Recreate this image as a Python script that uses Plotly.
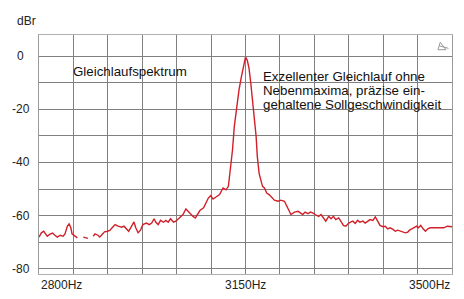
import plotly.graph_objects as go

freq_hz = [2800, 2804, 2808, 2814, 2818, 2823, 2827, 2831, 2836, 2841, 2844, 2848, 2851, 2854, 2856,
           2861, 2865, 2868, 2875, 2879, 2883, 2886, 2892, 2895, 2900, 2903, 2907, 2911, 2916, 2920,
           2924, 2929, 2934, 2940, 2944, 2948, 2952, 2957, 2961, 2964, 2968, 2972, 2976, 2982, 2987,
           2991, 2995, 2998, 3002, 3006, 3011, 3015, 3019, 3023, 3028, 3032, 3038, 3044, 3049, 3055,
           3061, 3065, 3069, 3073, 3079, 3083, 3087, 3091, 3095, 3100, 3106, 3112, 3117, 3121, 3123,
           3126, 3128, 3131, 3135, 3139, 3143, 3146, 3148, 3150, 3153, 3156, 3159, 3162, 3165, 3168,
           3170, 3173, 3177, 3179, 3182, 3186, 3190, 3195, 3199, 3205, 3210, 3216, 3220, 3224, 3227,
           3233, 3239, 3243, 3247, 3251, 3256, 3260, 3264, 3268, 3274, 3278, 3282, 3286, 3291, 3295,
           3299, 3303, 3308, 3312, 3316, 3320, 3325, 3328, 3332, 3336, 3340, 3344, 3349, 3353, 3357,
           3361, 3366, 3370, 3374, 3378, 3383, 3387, 3391, 3395, 3400, 3404, 3408, 3412, 3417, 3421,
           3425, 3428, 3432, 3436, 3440, 3443, 3447, 3451, 3455, 3459, 3463, 3469, 3475, 3480, 3486,
           3492, 3497, 3500]
level_dbr = [-68.1, -66.5, -65.9, -67.8, -67.1, -66.6, -67.4, -68.1, -67.4, -67.8, -66.9, -64.0, -63.1, -64.6, -66.9,
             -67.8, -68.4, None, -68.1, -68.4, -68.6, None, -67.8, -66.9, -67.4, -68.1, -67.1, -66.1, -65.9, -65.6,
             -64.6, -63.4, -64.0, -64.4, -64.0, -65.0, -65.9, -64.0, -62.4, -64.6, -66.5, -65.5, -63.4, -62.8, -63.4,
             -62.8, -61.2, -62.5, -63.4, -61.8, -62.5, -61.8, -62.5, -61.2, -62.5, -62.1, -60.9, -59.6, -57.5, -59.0,
             -60.3, -60.9, -59.6, -58.0, -57.1, -55.5, -53.4, -52.5, -53.8, -53.0, -52.1, -49.6, -50.3, -49.0, -45.0,
             -40.2, -35.2, -26.5, -19.0, -12.7, -7.8, -4.0, -1.5, -0.3, -1.5, -4.6, -10.2, -16.5, -24.0, -30.2,
             -37.7, -44.0, -47.5, -49.0, -49.6, -51.5, -52.1, -53.4, -54.2, -54.6, -54.2, -54.6, -56.5, -58.4, -59.6,
             -58.7, -58.4, -59.0, -59.6, -58.7, -59.3, -58.7, -59.0, -59.6, -60.3, -59.6, -60.9, -62.1, -60.3, -61.2,
             -60.3, -61.5, -60.9, -62.1, -63.7, -64.0, -62.8, -62.5, -62.1, -63.0, -61.8, -62.5, -62.1, -62.8, -62.1,
             -61.5, -61.8, -60.5, -62.1, -63.7, -64.2, -64.0, -65.0, -64.6, -65.2, -65.9, -65.5, -65.9, -66.2, -66.5,
             -66.2, -65.5, -65.0, -64.6, -64.0, -64.6, -63.7, -65.0, -65.9, -65.0, -64.6, -64.6, -64.6, -64.4, -64.6,
             -64.0, -64.0, -64.2]

y_tick_vals = [0, -20, -40, -60, -80]
y_tick_text = ["0", "-20", "-40", "-60", "-80"]
x_tick_vals = [2800, 3150, 3500]
x_tick_text = ["2800Hz", "3150Hz", "3500Hz"]
title_left = "Gleichlaufspektrum"
note_lines = ["Exzellenter Gleichlauf ohne", "Nebenmaxima, präzise ein-", "gehaltene Sollgeschwindigkeit"]

FONT = "Liberation Sans, Arial, sans-serif"
GRID = "#808080"

fig = go.Figure()
fig.add_trace(go.Scatter(x=freq_hz, y=level_dbr, mode="lines",
                         line=dict(color="#d0202a", width=1.4),
                         connectgaps=False, hoverinfo="skip"))

fig.update_layout(
    width=464, height=299,
    margin=dict(l=39, r=12, t=35, b=25),
    paper_bgcolor="white", plot_bgcolor="white",
    showlegend=False,
    font=dict(family=FONT, size=12, color="#222"),
)
fig.update_xaxes(range=[2800, 3500], tick0=2800, dtick=700 / 12,
                 showgrid=True, gridcolor=GRID, gridwidth=1,
                 showticklabels=False, ticks="", zeroline=False,
                 showline=True, linecolor="#b0b0b0", linewidth=1, mirror=True)
fig.update_yaxes(range=[-82, 8], tick0=0, dtick=10,
                 showgrid=True, gridcolor=GRID, gridwidth=1,
                 showticklabels=False, ticks="", zeroline=False,
                 showline=True, linecolor="#9a9a9a", linewidth=1, mirror=True)

anns = []
for v, t in zip(y_tick_vals, y_tick_text):
    anns.append(dict(x=-0.044, xref="paper", y=v, yref="y", text=t, showarrow=False,
                     xanchor="center", yanchor="middle", font=dict(size=12, color="#222")))
anns.append(dict(x=-0.03, xref="paper", y=1.06, yref="paper", text="dBr", showarrow=False,
                 xanchor="center", yanchor="middle", font=dict(size=12, color="#222")))
for v, t, anc in zip(x_tick_vals, x_tick_text, ["left", "center", "right"]):
    anns.append(dict(x=v, xref="x", y=-0.046, yref="paper", text=t, showarrow=False,
                     xanchor=anc, yanchor="middle", font=dict(size=12, color="#222")))
anns.append(dict(x=2855, xref="x", y=-5.6, yref="y", text=title_left, showarrow=False,
                 xanchor="left", yanchor="middle", font=dict(size=13.3, color="#111")))
for i, line in enumerate(note_lines):
    anns.append(dict(x=3176, xref="x", y=[-7.5, -12.9, -18.2][i], yref="y", text=line,
                     showarrow=False, xanchor="left", yanchor="middle",
                     font=dict(size=13.3, color="#111")))
fig.update_layout(annotations=anns)

# small pen/triangle icon in the top-right corner
fig.add_shape(type="path", xref="paper", yref="paper",
              path="M 0.9715 0.9695 L 0.9660 0.9385 L 0.9855 0.9385 Z",
              line=dict(color="#999", width=1), fillcolor="rgba(0,0,0,0)")
fig.add_shape(type="line", xref="paper", yref="paper",
              x0=0.9690, y0=0.955, x1=0.9915, y1=0.944,
              line=dict(color="#999", width=1))

fig.write_html("out.html")
